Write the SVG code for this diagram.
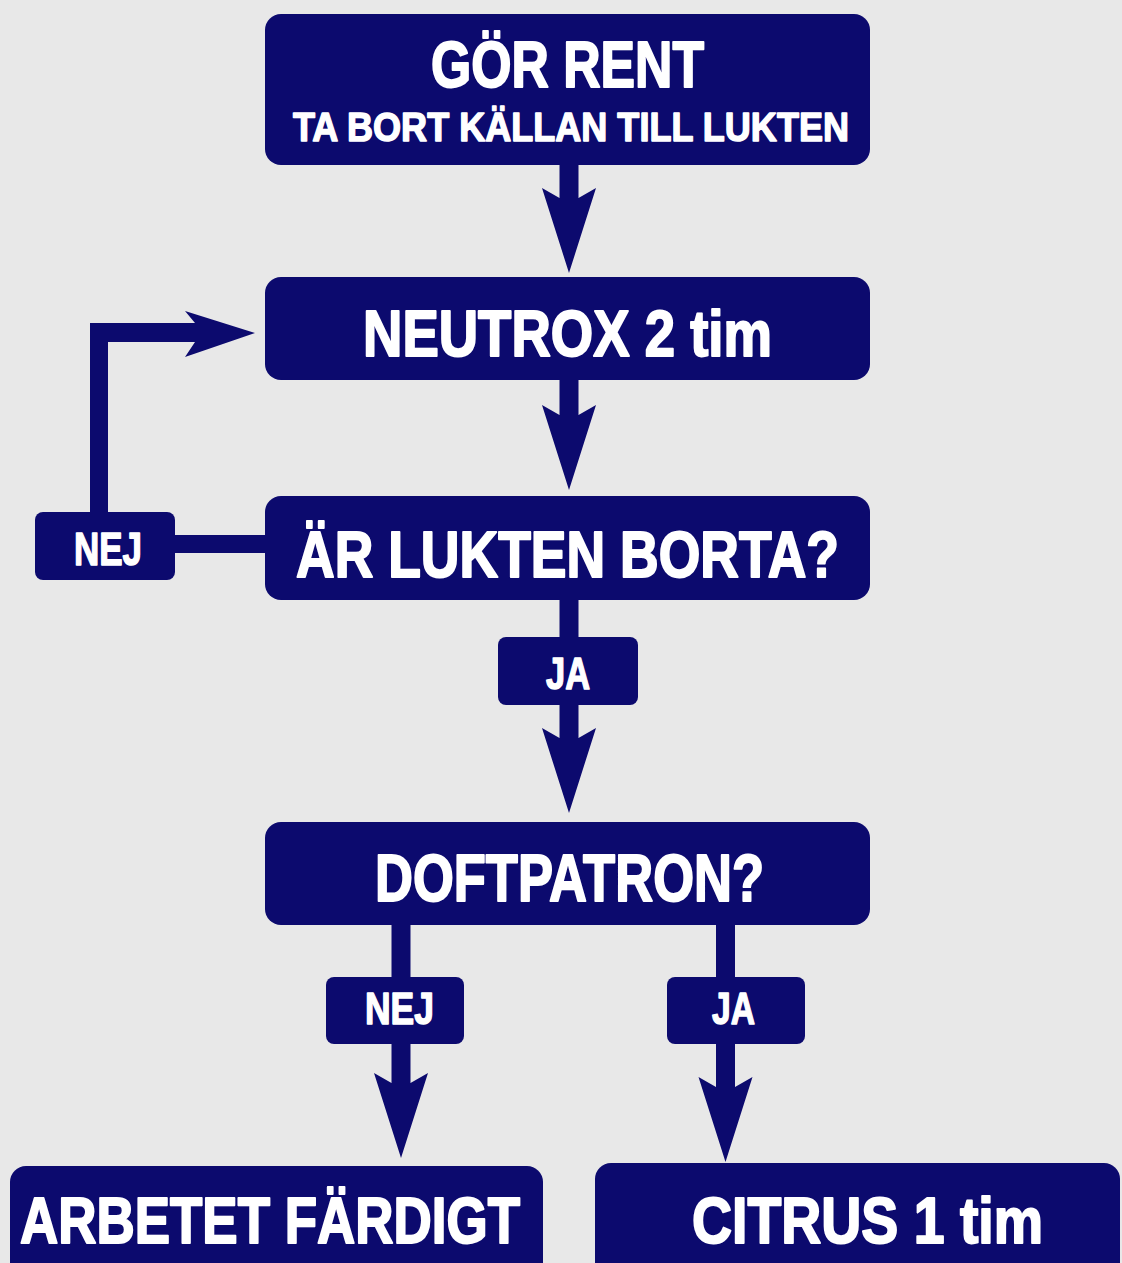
<svg xmlns="http://www.w3.org/2000/svg" xmlns:xlink="http://www.w3.org/1999/xlink" width="1122" height="1263" viewBox="0 0 1122 1263">
<style>
.box{fill:#0c0a6e}
.conn{fill:#0c0a6e}
.t{fill:#ffffff;stroke:#ffffff;stroke-width:2;stroke-linejoin:round;font-family:"Liberation Sans Narrow","Liberation Sans",Arial,sans-serif;font-weight:bold}
.s{stroke-width:1.5}
</style>
<defs>
<path id="headDown" d="M0,0 L-27,-85 L-9.5,-75 L9.5,-75 L27,-85 Z"/>
</defs>
<rect width="1122" height="1263" fill="#e8e8e8"/>
<g id="connectors" class="conn">
  <rect x="559.5" y="160" width="19" height="45"/>
  <use xlink:href="#headDown" href="#headDown" x="569" y="273"/>
  <rect x="559.5" y="375" width="19" height="45"/>
  <use xlink:href="#headDown" href="#headDown" x="569" y="490"/>
  <rect x="559.5" y="595" width="19" height="47"/>
  <rect x="559.5" y="700" width="19" height="43"/>
  <use xlink:href="#headDown" href="#headDown" x="569" y="813"/>
  <rect x="170" y="535" width="100" height="18"/>
  <path d="M90,517 L90,323 L195,323 L185,311 L255,333 L185,357 L195,342 L108,342 L108,517 Z"/>
  <rect x="391.5" y="920" width="19" height="62"/>
  <rect x="391.5" y="1040" width="19" height="48"/>
  <use xlink:href="#headDown" href="#headDown" x="401" y="1158"/>
  <rect x="716" y="920" width="19" height="62"/>
  <rect x="716" y="1040" width="19" height="52"/>
  <use xlink:href="#headDown" href="#headDown" x="725.5" y="1162"/>
</g>
<g id="node-gor-rent">
  <rect class="box" x="265" y="14" width="605" height="151" rx="16"/>
  <text class="t" x="431" y="87" font-size="65" textLength="273" lengthAdjust="spacingAndGlyphs">GÖR RENT</text>
  <text class="t s" x="293" y="141" font-size="41" textLength="556" lengthAdjust="spacingAndGlyphs">TA BORT KÄLLAN TILL LUKTEN</text>
</g>
<g id="node-neutrox">
  <rect class="box" x="265" y="277" width="605" height="103" rx="16"/>
  <text class="t" x="363" y="356" font-size="64" textLength="409" lengthAdjust="spacingAndGlyphs">NEUTROX 2 tim</text>
</g>
<g id="node-lukten">
  <rect class="box" x="265" y="496" width="605" height="104" rx="16"/>
  <text class="t" x="296" y="577" font-size="65" textLength="543" lengthAdjust="spacingAndGlyphs">ÄR LUKTEN BORTA?</text>
</g>
<g id="label-nej-1">
  <rect class="box" x="35" y="512" width="140" height="68" rx="8"/>
  <text class="t s" x="74" y="565" font-size="46" textLength="68" lengthAdjust="spacingAndGlyphs">NEJ</text>
</g>
<g id="label-ja-1">
  <rect class="box" x="498" y="637" width="140" height="68" rx="8"/>
  <text class="t s" x="546" y="689" font-size="45" textLength="44" lengthAdjust="spacingAndGlyphs">JA</text>
</g>
<g id="node-doftpatron">
  <rect class="box" x="265" y="822" width="605" height="103" rx="16"/>
  <text class="t" x="375" y="901" font-size="66" textLength="389" lengthAdjust="spacingAndGlyphs">DOFTPATRON?</text>
</g>
<g id="label-nej-2">
  <rect class="box" x="326" y="977" width="138" height="67" rx="8"/>
  <text class="t s" x="365" y="1024" font-size="45" textLength="69" lengthAdjust="spacingAndGlyphs">NEJ</text>
</g>
<g id="label-ja-2">
  <rect class="box" x="667" y="977" width="138" height="67" rx="8"/>
  <text class="t s" x="712" y="1024" font-size="45" textLength="43" lengthAdjust="spacingAndGlyphs">JA</text>
</g>
<g id="node-arbetet">
  <rect class="box" x="10" y="1166" width="533" height="120" rx="16"/>
  <text class="t" x="20" y="1243" font-size="64" textLength="500" lengthAdjust="spacingAndGlyphs">ARBETET FÄRDIGT</text>
</g>
<g id="node-citrus">
  <rect class="box" x="595" y="1163" width="525" height="123" rx="16"/>
  <text class="t" x="692" y="1243" font-size="64" textLength="351" lengthAdjust="spacingAndGlyphs">CITRUS 1 tim</text>
</g>
</svg>
